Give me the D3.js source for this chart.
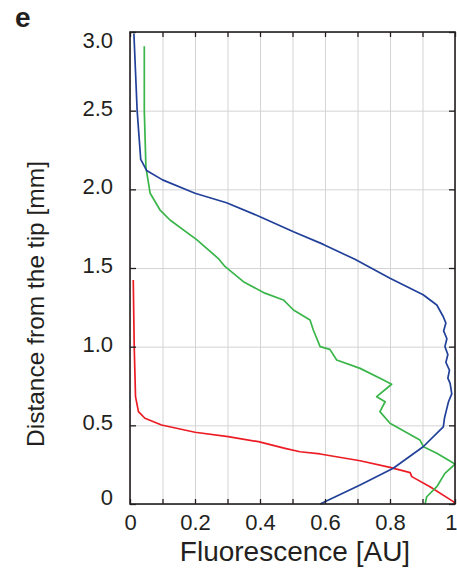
<!DOCTYPE html>
<html>
<head>
<meta charset="utf-8">
<script src="https://cdn.jsdelivr.net/npm/d3@7"></script>
<style>
  body { margin: 0; background: #fff; }
  text { font-family: "Liberation Sans", Arial, sans-serif; fill: #231f20; }
</style>
</head>
<body>
<svg id="chart"></svg>
<script>
// fluorescence (x) vs distance from the tip in mm (y)
const blueF = [0.012, 0.022, 0.033, 0.051, 0.1, 0.2, 0.297, 0.4, 0.503, 0.595, 0.692, 0.8, 0.902, 0.944,
  0.964, 0.972, 0.965, 0.975, 0.969, 0.978, 0.972, 0.983, 0.978, 0.985, 0.99, 0.98, 0.974, 0.968, 0.964,
  0.902, 0.81, 0.708, 0.585];
const blueD = [2.99, 2.5, 2.19, 2.12, 2.06, 1.975, 1.915, 1.826, 1.73, 1.65, 1.555, 1.435, 1.33, 1.265,
  1.19, 1.15, 1.10, 1.05, 1.0, 0.95, 0.9, 0.85, 0.8, 0.767, 0.70, 0.65, 0.6, 0.55, 0.49,
  0.364, 0.227, 0.121, 0.0];

const greenF = [0.044, 0.044, 0.049, 0.062, 0.092, 0.123, 0.205, 0.272, 0.292, 0.349, 0.415, 0.472, 0.503,
  0.554, 0.564, 0.585, 0.615, 0.636, 0.708, 0.78, 0.805, 0.759, 0.785, 0.769, 0.8, 0.892, 0.903, 0.944,
  1.0, 0.969, 0.944, 0.913, 0.908];
const greenD = [2.91, 2.5, 2.14, 1.975, 1.87, 1.805, 1.68, 1.56, 1.51, 1.413, 1.34, 1.297, 1.233,
  1.17, 1.106, 1.0, 0.983, 0.915, 0.862, 0.788, 0.761, 0.682, 0.65, 0.587, 0.513, 0.407, 0.364, 0.322,
  0.254, 0.195, 0.11, 0.046, 0.0];

const redF = [0.010, 0.013, 0.017, 0.026, 0.046, 0.097, 0.2, 0.302, 0.395, 0.477, 0.523, 0.585, 0.708,
  0.8, 0.862, 0.867, 0.923, 0.995, 1.0];
const redD = [1.424, 1.0, 0.682, 0.587, 0.545, 0.502, 0.456, 0.428, 0.396, 0.354, 0.332, 0.318, 0.275,
  0.233, 0.199, 0.174, 0.11, 0.015, 0.0];

const xTicks = [0, 0.2, 0.4, 0.6, 0.8, 1];
const xTickLabels = ["0", "0.2", "0.4", "0.6", "0.8", "1"];
const yTicks = [0, 0.5, 1, 1.5, 2, 2.5, 3];
const yTickLabels = ["0", "0.5", "1.0", "1.5", "2.0", "2.5", "3.0"];

const WIDTH = 457, HEIGHT = 572;
const MARGIN = { top: 32, right: 2, bottom: 68, left: 130 };
const INNER_WIDTH = WIDTH - MARGIN.left - MARGIN.right;
const INNER_HEIGHT = HEIGHT - MARGIN.top - MARGIN.bottom;

const SVG = d3.select("#chart").attr("width", WIDTH).attr("height", HEIGHT);
const g = SVG.append("g").attr("transform", "translate(" + MARGIN.left + "," + MARGIN.top + ")");

const xScale = d3.scaleLinear().domain([0, 1]).range([0, INNER_WIDTH]);
const yScale = d3.scaleLinear().domain([0, 3]).range([INNER_HEIGHT, 0]);
const minorX = d3.range(0, 1.0001, 0.1);

// grid
g.append("g")
  .attr("transform", "translate(0," + INNER_HEIGHT + ")")
  .call(d3.axisBottom(xScale).tickValues(minorX).tickSize(-INNER_HEIGHT).tickFormat(""))
  .call(a => a.select(".domain").remove())
  .selectAll("line").attr("stroke", "#d4d4d4").attr("stroke-width", 1);
g.append("g")
  .call(d3.axisLeft(yScale).tickValues(yTicks).tickSize(-INNER_WIDTH).tickFormat(""))
  .call(a => a.select(".domain").remove())
  .selectAll("line").attr("stroke", "#d4d4d4").attr("stroke-width", 1);

// lines
const series = [
  { f: redF, d: redD, color: "#ec1c24" },
  { f: greenF, d: greenD, color: "#39b54a" },
  { f: blueF, d: blueD, color: "#21409a" },
];
const line = d3.line().x(p => xScale(p[0])).y(p => yScale(p[1]));
series.forEach(s => {
  g.append("path")
    .datum(s.f.map((v, i) => [v, s.d[i]]))
    .attr("d", line)
    .attr("fill", "none")
    .attr("stroke", s.color)
    .attr("stroke-width", 1.7)
    .attr("stroke-linejoin", "round");
});

// inward ticks on all four sides
const tickColor = "#231f20";
g.append("g").attr("transform", "translate(0," + INNER_HEIGHT + ")")
  .call(d3.axisTop(xScale).tickValues(minorX).tickSize(5).tickFormat(""))
  .call(a => a.select(".domain").remove())
  .selectAll("line").attr("stroke", tickColor).attr("stroke-width", 1.3);
g.append("g")
  .call(d3.axisBottom(xScale).tickValues(minorX).tickSize(5).tickFormat(""))
  .call(a => a.select(".domain").remove())
  .selectAll("line").attr("stroke", tickColor).attr("stroke-width", 1.3);
g.append("g")
  .call(d3.axisRight(yScale).tickValues(yTicks).tickSize(6).tickFormat(""))
  .call(a => a.select(".domain").remove())
  .selectAll("line").attr("stroke", tickColor).attr("stroke-width", 1.3);
g.append("g").attr("transform", "translate(" + INNER_WIDTH + ",0)")
  .call(d3.axisLeft(yScale).tickValues(yTicks).tickSize(6).tickFormat(""))
  .call(a => a.select(".domain").remove())
  .selectAll("line").attr("stroke", tickColor).attr("stroke-width", 1.3);

// box
g.append("rect")
  .attr("width", INNER_WIDTH).attr("height", INNER_HEIGHT)
  .attr("fill", "none").attr("stroke", tickColor).attr("stroke-width", 1.6);

// tick labels
const xLab = g.append("g").attr("transform", "translate(0," + INNER_HEIGHT + ")")
  .call(d3.axisBottom(xScale).tickValues(xTicks).tickSize(0).tickPadding(10)
    .tickFormat((d, i) => xTickLabels[i]));
xLab.select(".domain").remove();
xLab.selectAll("text").attr("font-size", "22px").attr("font-family", "Liberation Sans, Arial, sans-serif")
  .attr("fill", tickColor);
// last label sits at the right edge of the figure
xLab.selectAll("text").filter(d => d === 1).attr("text-anchor", "end").attr("x", 2);

const yLab = g.append("g")
  .call(d3.axisLeft(yScale).tickValues(yTicks).tickSize(0).tickPadding(17)
    .tickFormat((d, i) => yTickLabels[i]));
yLab.select(".domain").remove();
yLab.selectAll("text").attr("font-size", "22px").attr("font-family", "Liberation Sans, Arial, sans-serif")
  .attr("fill", tickColor)
  .attr("dy", d => d === 3 ? "0.7em" : d === 0 ? "0.0em" : "0.2em");

// axis titles
SVG.append("text")
  .attr("x", 295).attr("y", 561)
  .attr("text-anchor", "middle").attr("font-size", "28px")
  .text("Fluorescence [AU]");
SVG.append("text")
  .attr("transform", "translate(44,304) rotate(-90)")
  .attr("text-anchor", "middle").attr("font-size", "24.5px")
  .text("Distance from the tip [mm]");

// panel letter
SVG.append("text")
  .attr("x", 15).attr("y", 27)
  .attr("font-size", "28px").attr("font-weight", "bold")
  .text("e");
</script>
</body>
</html>
